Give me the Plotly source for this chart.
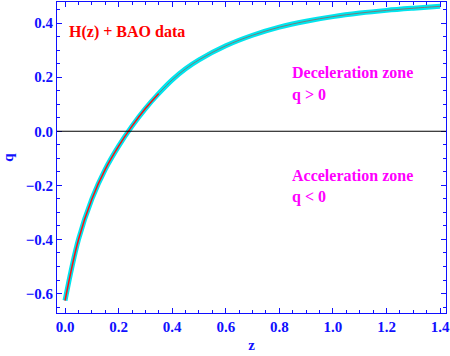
import plotly.graph_objects as go

# deceleration parameter q(z)
z_vals = [0.0, 0.05, 0.1, 0.15, 0.2, 0.25, 0.3, 0.35, 0.4, 0.45, 0.5, 0.6, 0.7, 0.8, 0.9, 1.0, 1.1, 1.2, 1.3, 1.4]
q_vals = [-0.626, -0.401, -0.251, -0.141, -0.055, 0.019, 0.084, 0.14, 0.19, 0.231, 0.264, 0.316, 0.355, 0.385,
          0.407, 0.424, 0.437, 0.447, 0.455, 0.462]

x_ticks = [0.0, 0.2, 0.4, 0.6, 0.8, 1.0, 1.2, 1.4]
y_ticks = [-0.6, -0.4, -0.2, 0.0, 0.2, 0.4]

BLUE = '#1010ff'
MAGENTA = '#ff00ff'
FONT = 'Liberation Serif'

fig = go.Figure()

# cyan error band (thick line)
fig.add_trace(go.Scatter(x=z_vals, y=q_vals, mode='lines', line=dict(color='#00e5ee', width=5, shape='spline'),
                         hoverinfo='skip', showlegend=False))
# best-fit line: red at low z, grey at higher z
split = 8
fig.add_trace(go.Scatter(x=z_vals[:split], y=q_vals[:split], mode='lines',
                         line=dict(color='#ff1010', width=1.5, shape='spline'), showlegend=False))
fig.add_trace(go.Scatter(x=z_vals[split - 1:], y=q_vals[split - 1:], mode='lines',
                         line=dict(color='#7a7a7a', width=1, shape='spline'), showlegend=False))

# q = 0 line
fig.add_shape(type='line', xref='paper', x0=0, x1=1, y0=0, y1=0, line=dict(color='black', width=1.2))

bold = dict(family=FONT, size=16, weight='bold')
fig.add_annotation(x=0.008, y=0.367, text='H(z) + BAO data', showarrow=False, xanchor='left',
                   font=dict(bold, color='#ff0000'))
fig.add_annotation(x=0.84, y=0.218, text='Deceleration zone', showarrow=False, xanchor='left',
                   font=dict(bold, color=MAGENTA))
fig.add_annotation(x=0.84, y=0.135, text='q &gt; 0', showarrow=False, xanchor='left',
                   font=dict(bold, color=MAGENTA))
fig.add_annotation(x=0.84, y=-0.163, text='Acceleration zone', showarrow=False, xanchor='left',
                   font=dict(bold, color=MAGENTA))
fig.add_annotation(x=0.84, y=-0.244, text='q &lt; 0', showarrow=False, xanchor='left',
                   font=dict(bold, color=MAGENTA))

axis_common = dict(showline=True, linecolor=BLUE, linewidth=1, mirror='ticks', ticks='inside', ticklen=5,
                   tickcolor=BLUE, showgrid=False, zeroline=False, tickformat='.1f',
                   tickfont=dict(family=FONT, size=15, color=BLUE, weight='bold'),
                   minor=dict(ticks='inside', ticklen=3, tickcolor=BLUE, dtick=0.05, showgrid=False))

fig.update_xaxes(range=[-0.03, 1.422], tickvals=x_ticks, title=dict(text='z', standoff=5,
                 font=dict(family=FONT, size=15, color=BLUE, weight='bold')), **axis_common)
fig.update_yaxes(range=[-0.672, 0.478], tickvals=y_ticks, title=dict(text='q', standoff=10,
                 font=dict(family=FONT, size=15, color=BLUE, weight='bold')), **axis_common)

fig.update_layout(width=450, height=356, margin=dict(l=57, r=4, t=2, b=43, autoexpand=False),
                  plot_bgcolor='white', paper_bgcolor='white')

fig.write_html("out.html", config={'displayModeBar': False},
               post_script="document.body.style.margin='0';")
